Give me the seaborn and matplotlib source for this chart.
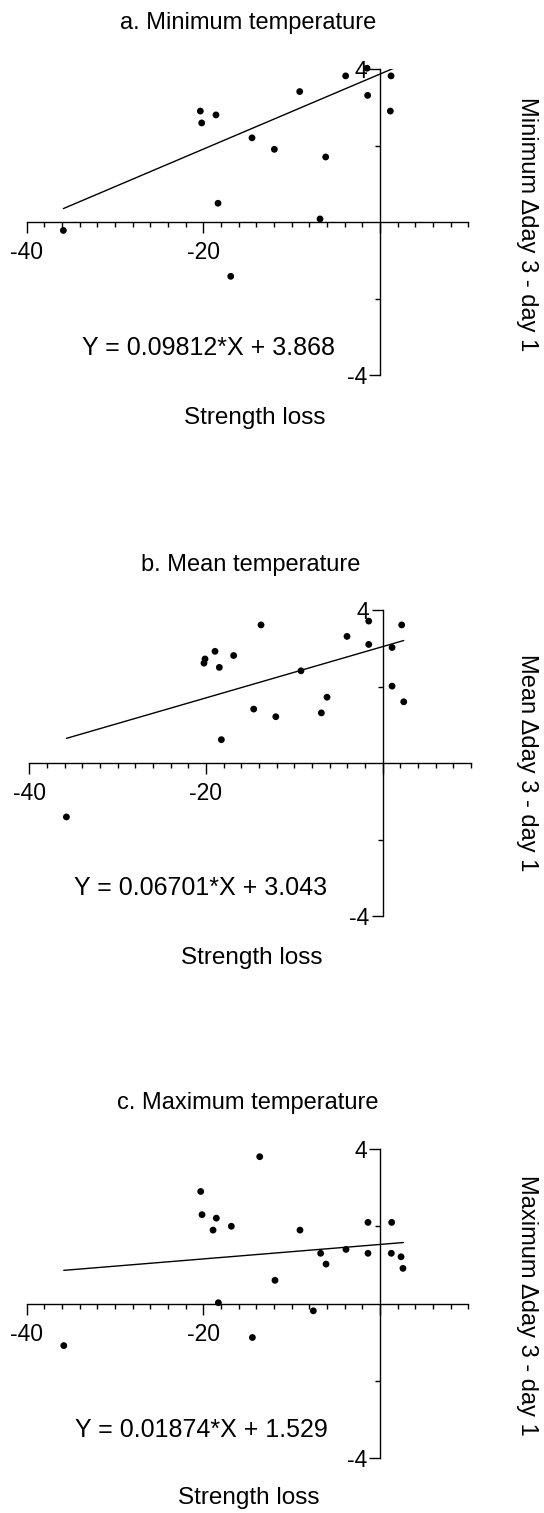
import numpy as np
import pandas as pd
import matplotlib
matplotlib.use("Agg")
import matplotlib.pyplot as plt
import seaborn as sns
from matplotlib.ticker import FixedLocator

# ---------------- data ----------------
titles = ["a. Minimum temperature", "b. Mean temperature", "c. Maximum temperature"]
ylabels = ["Minimum \u0394day 3 - day 1", "Mean \u0394day 3 - day 1", "Maximum \u0394day 3 - day 1"]
equations = ["Y = 0.09812*X + 3.868", "Y = 0.06701*X + 3.043", "Y = 0.01874*X + 1.529"]
slopes = [0.09812, 0.06701, 0.01874]
intercepts = [3.868, 3.043, 1.529]
xlabel = "Strength loss"

x_min_a = [-35.85, -20.34, -20.19, -18.57, -18.34, -16.9, -14.49, -11.96, -9.09,
           -6.79, -6.15, -3.89, -1.47, -1.40, 1.25, 1.17]
y_min_a = [-0.22, 2.90, 2.59, 2.80, 0.49, -1.42, 2.20, 1.90, 3.41,
           0.08, 1.70, 3.82, 4.02, 3.31, 3.82, 2.90]

x_mean_b = [-35.8, -13.77, -1.58, 2.15, -4.04, -1.58, 1.06, -18.98, -16.87, -20.11,
            -20.23, -18.49, -9.25, 1.06, -6.30, 2.38, -14.6, -12.1, -6.94, -18.26]
y_mean_b = [-1.41, 3.61, 3.71, 3.61, 3.31, 3.10, 3.02, 2.92, 2.81, 2.72,
            2.61, 2.50, 2.41, 2.01, 1.72, 1.60, 1.41, 1.21, 1.31, 0.61]

x_max_c = [-35.8, -14.45, -13.62, -20.3, -20.15, -18.53, -18.9, -16.83, -9.06, -1.36,
           1.32, -6.72, -3.85, -1.36, 1.28, 2.38, -6.11, 2.6, -11.89, -18.3, -7.55]
y_max_c = [-1.09, -0.88, 3.80, 2.90, 2.30, 2.21, 1.90, 2.00, 1.90, 2.10,
           2.10, 1.30, 1.40, 1.30, 1.30, 1.21, 1.02, 0.91, 0.60, 0.02, -0.19]

line_x_ranges = [[-35.85, 1.8], [-35.8, 2.38], [-35.8, 2.64]]

xs = [x_min_a, x_mean_b, x_max_c]
ys = [y_min_a, y_mean_b, y_max_c]

x_major = [-40, -20, 0]
x_major_labels = ["-40", "-20", ""]
x_minor = list(range(-40, 11, 2))
y_major = [-4, 4]
y_major_labels = ["-4", "4"]
y_minor = [-2, 2]

# ---------------- style ----------------
sns.set_theme(style="white")
plt.rcParams["font.family"] = ["Liberation Sans", "DejaVu Sans"]

W, H = 544, 1513
fig = plt.figure(figsize=(W / 100, H / 100), dpi=100)

# pixel layout: (x at -40, x at 0, y-top at 4, y-bottom at -4)
layouts = [(26.7, 380.0, 69, 375), (29.3, 382.7, 610, 916), (26.7, 380.0, 1149, 1458)]
title_pos = [(248, 23), (251, 565), (248, 1103)]
eq_pos = [(208, 348), (201, 888), (201, 1430)]
xlabel_pos = [(255, 418), (252, 958), (249, 1498)]
ylabel_pos = [(527, 224), (527, 763), (527, 1305)]


def fx(px):
    return px / W


def fy(py):
    return 1 - py / H


for i in range(3):
    x40, x0, top, bot = layouts[i]
    unit = (x0 - x40) / 40.0
    right = x0 + 10 * unit
    ax = fig.add_axes([fx(x40), fy(bot), (right - x40) / W, (bot - top) / H])
    ax.set_facecolor("none")

    df = pd.DataFrame({"x": xs[i], "y": ys[i]})
    sns.scatterplot(data=df, x="x", y="y", ax=ax, color="black", s=24,
                    edgecolor="none", clip_on=False, zorder=3)

    lx = np.array(line_x_ranges[i])
    ldf = pd.DataFrame({"x": lx, "y": slopes[i] * lx + intercepts[i]})
    sns.lineplot(data=ldf, x="x", y="y", ax=ax, color="black", linewidth=1.0)

    ax.set_xlim(-40, 10)
    ax.set_ylim(-4, 4)
    for s in ["top", "right"]:
        ax.spines[s].set_visible(False)
    ax.spines["left"].set_position(("data", 0))
    ax.spines["bottom"].set_position(("data", 0))
    for s in ["left", "bottom"]:
        ax.spines[s].set_color("black")
        ax.spines[s].set_linewidth(1.0)

    ax.xaxis.set_major_locator(FixedLocator(x_major))
    ax.set_xticklabels(x_major_labels)
    ax.xaxis.set_minor_locator(FixedLocator(x_minor))
    ax.yaxis.set_major_locator(FixedLocator(y_major))
    ax.set_yticklabels(y_major_labels)
    ax.yaxis.set_minor_locator(FixedLocator(y_minor))

    ax.tick_params(axis="x", which="major", bottom=True, direction="out",
                   length=8, width=1.0, pad=6, labelsize=16.5, colors="black")
    ax.tick_params(axis="x", which="minor", bottom=True, direction="out",
                   length=3.5, width=1.0, colors="black")
    ax.tick_params(axis="y", which="major", left=True, direction="out",
                   length=8, width=1.0, pad=1.5, labelsize=16.5, colors="black")
    ax.tick_params(axis="y", which="minor", left=True, direction="out",
                   length=3.5, width=1.0, colors="black")
    ax.set_xlabel("")
    ax.set_ylabel("")
    ax.grid(False)

    fig.text(fx(title_pos[i][0]), fy(title_pos[i][1]), titles[i],
             ha="center", va="center", fontsize=17, color="black")
    fig.text(fx(eq_pos[i][0]), fy(eq_pos[i][1]), equations[i],
             ha="center", va="center", fontsize=18, color="black")
    fig.text(fx(xlabel_pos[i][0]), fy(xlabel_pos[i][1]), xlabel,
             ha="center", va="center", fontsize=17.5, color="black")
    fig.text(fx(ylabel_pos[i][0]), fy(ylabel_pos[i][1]), ylabels[i],
             ha="center", va="center", rotation=270, fontsize=17, color="black")

fig.savefig("out.png", dpi=100, facecolor="white")
